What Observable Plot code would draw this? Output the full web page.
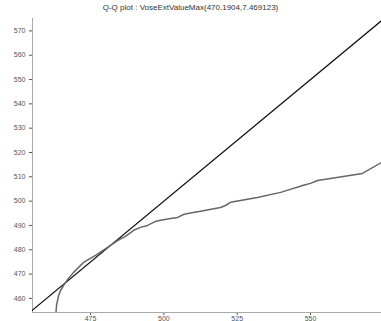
<!DOCTYPE html>
<html><head><meta charset="utf-8">
<script src="https://cdn.jsdelivr.net/npm/d3@7"></script>
<script src="https://cdn.jsdelivr.net/npm/@observablehq/plot@0.6"></script>
<style>
body{margin:0;background:#fff;font-family:"Liberation Sans",Arial,sans-serif;}
#wrap{position:relative;width:381px;height:321px;overflow:hidden;}
#title{position:absolute;left:0;top:3px;width:381px;text-align:center;font-size:8px;color:#333;}
</style></head>
<body><div id="wrap"><div id="title">Q-Q plot : VoseExtValueMax(470.1904,7.469123)</div></div>
<script>
const titleText = "Q-Q plot : VoseExtValueMax(470.1904,7.469123)";
const qx = [463.2,463.4,463.75,464.1,464.8,465.8,467.2,469.2,472.6,476.7,480.8,484.2,486.9,489.7,492.0,494.4,497.2,498.9,502.3,504.7,506.7,508.1,512.5,519.3,521.0,522.7,526.1,531.9,539.8,547.6,550.0,552.4,567.7,574.2];
const qy = [454.2,457.1,459.2,461.2,463.3,465.3,467.8,470.7,474.8,477.7,481.0,483.8,485.5,488.0,489.2,490.0,491.7,492.1,492.9,493.3,494.5,494.9,495.8,497.4,498.2,499.5,500.3,501.5,503.6,506.5,507.3,508.5,511.4,515.9];
const refLine = [450, 580];
const xTicks = [475, 500, 525, 550];
const yTicks = [460,470,480,490,500,510,520,530,540,550,560,570];

const curve = qx.map((x,i)=>({x, y: qy[i]}));
const diag = refLine.map(v=>({x:v, y:v}));

const chart = Plot.plot({
  width: 381, height: 321,
  marginLeft: 32, marginRight: 0, marginTop: 18, marginBottom: 9,
  style: {fontFamily: '"Liberation Sans", Arial, sans-serif', fontSize: "7px", color: "#555", background: "transparent"},
  x: {domain: [455.2, 574.2], ticks: xTicks, tickSize: 3, tickPadding: 0.5, label: null},
  y: {domain: [454.2, 575.1], ticks: yTicks, tickSize: 3, tickPadding: 4, label: null},
  marks: [
    Plot.ruleX([455.2], {stroke: "#aaa"}),
    Plot.ruleY([454.2], {stroke: "#aaa"}),
    Plot.line(diag, {x:"x", y:"y", stroke:"#111", strokeWidth:1.3, clip:true}),
    Plot.line(curve, {x:"x", y:"y", stroke:"#666", strokeWidth:1.5, clip:true})
  ]
});
chart.style.position = "absolute";
chart.style.left = "0";
chart.style.top = "0";
document.getElementById("wrap").appendChild(chart);
</script>
</body></html>
